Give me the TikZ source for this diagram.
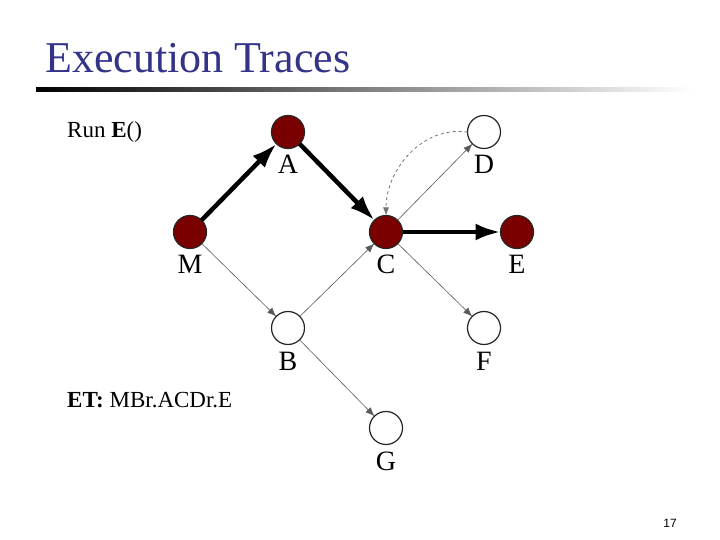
\documentclass[tikz,border=0pt]{standalone}
\usepackage{fontspec}
\setmainfont{Liberation Serif}
\setsansfont{Liberation Sans}
\usetikzlibrary{arrows.meta, positioning}
\definecolor{titleblue}{RGB}{51,51,136}
\definecolor{visited}{RGB}{122,0,0}
\tikzset{
  vertex/.style={
    circle,
    draw=black!85,
    line width=1.2pt,
    minimum size=33pt,
    inner sep=0pt,
    outer sep=0pt
  },
  hit/.style={vertex, fill=visited},
  miss/.style={vertex, fill=white},
  vlabel/.style={font=\fontsize{28}{28}\selectfont, inner sep=0pt},
  note/.style={font=\fontsize{23}{26}\selectfont, anchor=base west, inner sep=0pt},
  tracearrow/.style={-{Latex[length=25pt, width=17pt]}, line width=4.5pt},
  callarrow/.style={-{Latex[length=9pt, width=7pt]}, line width=0.6pt, black!65},
  backarrow/.style={-{Latex[length=8pt, width=6pt]}, line width=0.8pt, black!55, dashed}
}

\begin{document}
\begin{tikzpicture}[x=1pt,y=-1pt]
\useasboundingbox (0,0) rectangle (720,540);
% title and rule
\node[anchor=base west, inner sep=0pt, text=titleblue, font=\fontsize{44}{44}\selectfont] (title) at (45,73) {Execution Traces};
\shade[left color=black, right color=white] (36,88) rectangle (692,92);

% call graph
\node[hit] (M) at (190,232) {};
\node[hit] (A) at (288,132) {};
\node[hit] (C) at (386,232) {};
\node[miss] (D) at (484,132) {};
\node[hit] (E) at (517,232) {};
\node[miss] (B) at (288,328) {};
\node[miss] (F) at (484,328) {};
\node[miss] (G) at (386,428) {};

\node[vlabel] (labM) at (190,264) {M};
\node[vlabel] (labA) at (288,164) {A};
\node[vlabel] (labC) at (386,264) {C};
\node[vlabel] (labD) at (484,164) {D};
\node[vlabel] (labE) at (517,264) {E};
\node[vlabel] (labB) at (288,361) {B};
\node[vlabel] (labF) at (484,361) {F};
\node[vlabel] (labG) at (386,461) {G};

\draw[callarrow] (M) -- (B);
\draw[callarrow] (B) -- (C);
\draw[callarrow] (B) -- (G);
\draw[callarrow] (C) -- (D);
\draw[callarrow] (C) -- (F);
\draw[tracearrow] (M) -- (A);
\draw[tracearrow] (A) -- (C);
\draw[tracearrow] (C) -- (E);
\draw[backarrow] (D.west) to[out=172,in=90] (C.north);

% text
\node[note] (run) at (67,138) {Run \textbf{E}()};
\node[note] (trace) at (67,407) {\textbf{ET:} MBr.ACDr.E};
\node[font=\sffamily\fontsize{12}{12}\selectfont, inner sep=0pt] (page) at (670,523) {17};
\end{tikzpicture}
\end{document}
